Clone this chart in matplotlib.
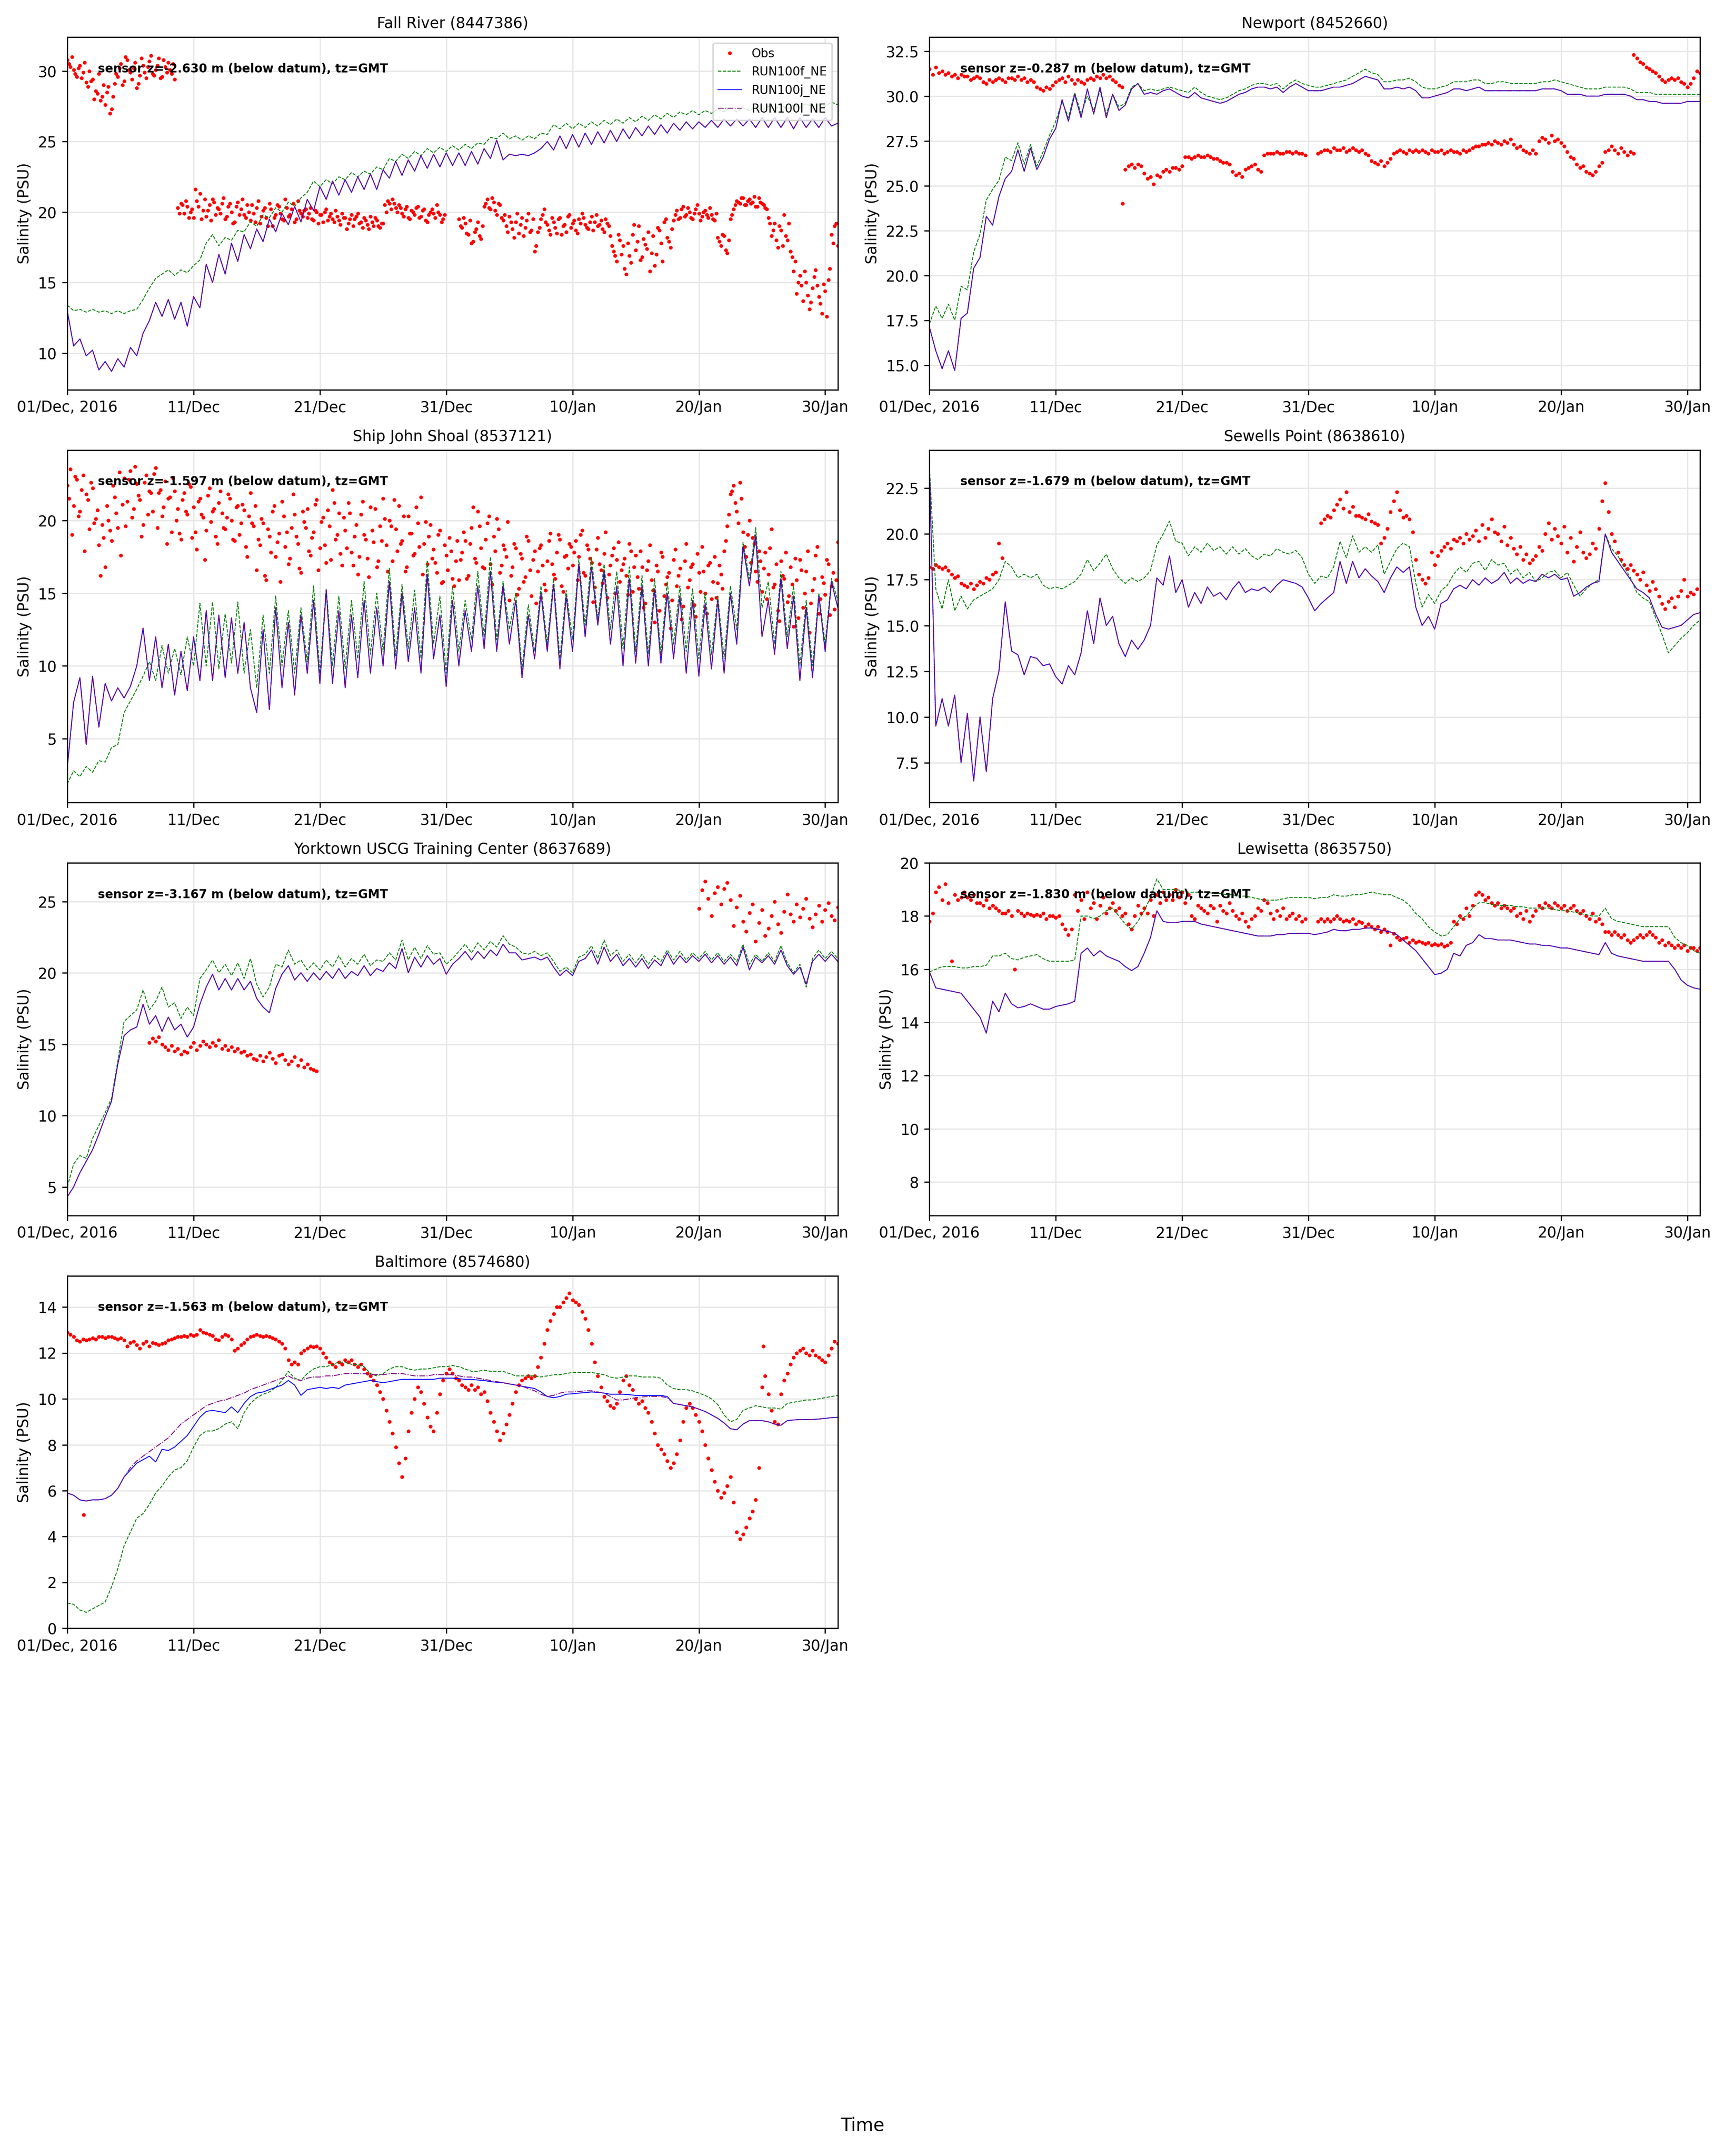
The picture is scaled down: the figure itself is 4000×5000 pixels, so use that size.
import numpy as np
import matplotlib
matplotlib.use("Agg")
import matplotlib.pyplot as plt
from datetime import datetime, timedelta

# Salinity at NOAA stations: observations vs three model runs, Dec 2016 - Jan 2017

T0 = datetime(2016, 12, 1)
MODEL_STEP = 0.5   # days between model samples
OBS_STEP = 0.25    # days between obs samples


def vals(s):
    return np.array(s.split(), dtype=float)


tick_days = [0, 10, 20, 30, 40, 50, 60]
tick_labels = ['01/Dec, 2016', '11/Dec', '21/Dec', '31/Dec', '10/Jan', '20/Jan', '30/Jan']

# ---------------- Fall River (8447386)
fr_f = vals("""
13.4 13.0 13.1 12.9 13.1 12.9 13.0 12.8 13.0 12.8 13.0 13.1
13.8 14.6 15.3 15.6 15.9 15.5 15.9 15.7 16.2 16.6 17.8 18.4
17.6 18.2 18.0 18.7 18.6 19.3 19.0 19.8 19.6 20.3 20.0 20.7
20.4 21.0 21.4 22.2 21.8 22.3 22.0 22.5 22.3 22.8 22.5 22.9
22.7 23.2 23.0 23.8 23.6 24.1 23.8 24.3 24.0 24.5 24.2 24.6
24.3 24.7 24.4 24.8 24.5 24.9 24.8 25.3 25.2 25.6 25.2 25.4
25.1 25.4 25.2 25.6 25.5 26.2 25.9 26.3 25.9 26.3 26.0 26.4
26.1 26.5 26.2 26.6 26.3 26.7 26.4 26.8 26.5 26.9 26.6 27.0
26.7 27.1 26.9 27.2 26.9 27.2 27.0 27.3 27.1 27.4 27.1 27.4
27.2 27.5 27.2 27.5 27.3 27.6 27.3 27.6 27.4 27.7 27.4 27.7
27.5 27.8 27.6""")
fr_j = vals("""
13.0 10.5 11.0 9.8 10.2 8.8 9.4 8.7 9.6 9.0 10.4 9.8
11.4 12.3 13.6 12.6 13.8 12.4 13.6 11.9 14.0 13.2 16.3 15.0
17.0 15.6 17.8 16.5 18.4 17.4 18.8 17.9 19.5 18.6 19.9 19.1
20.4 19.3 20.9 20.1 21.8 20.9 22.2 21.2 22.3 21.4 22.5 21.6
22.7 21.6 23.0 22.4 23.6 22.6 23.7 22.9 24.0 23.1 24.1 23.2
24.2 23.3 24.2 23.3 24.3 23.4 24.5 23.8 25.1 23.7 24.1 24.0
24.1 24.0 24.2 24.5 25.0 24.4 25.4 24.5 25.5 24.6 25.6 24.8
25.7 24.9 25.8 25.0 25.9 25.2 26.0 25.4 26.1 25.5 26.2 25.6
26.3 25.8 26.4 25.9 26.4 26.0 26.5 26.0 26.6 26.1 26.6 26.1
26.6 26.0 26.7 26.0 26.7 26.0 26.7 25.9 26.7 26.0 26.6 26.0
26.7 26.1 26.3""")
fr_l = fr_j
fr_obs = [
    (0.0, vals("""30.8 30.3 30.1 29.6 30.4 29.9 29.2 30.0 29.4 28.6 29.8 28.2 27.6 28.9 27.3
                  29.1 29.6 30.5 29.3 30.8 29.9 30.2 28.8 29.7 30.4 29.5 30.7 29.8 30.1 30.9
                  29.6 30.3 30.6 29.8 29.4""")),
    (0.125, vals("""30.5 31.0 29.8 30.2 29.5 30.6 28.9 29.3 28.0 28.4 27.9 29.0 28.5 27.0 28.2 29.8 30.2
                    29.0 31.0 30.1 29.4 30.6 29.1 30.9 29.9 30.3 31.1 29.7 30.4 29.5 30.8 29.9 30.1 30.5""")),
    (8.75, vals("""20.3 20.6 19.9 20.4 20.0 19.6 20.8 21.3 20.1 19.7 20.5 20.9 19.8 20.2 20.6
                   19.5 20.4 20.0 19.3 20.7 20.2 19.8 20.5 19.4 19.9 20.3 19.2 20.1 19.6 20.6
                   19.0 19.8 20.4 19.5 20.9 19.7 20.2 19.3 20.8 19.9 20.1
                   19.6 20.3 19.4 20.0 19.8 19.3 20.2 19.7 19.5 20.1 19.4 19.9 19.6 19.2 19.8
                   19.5 19.9 19.3 19.6 19.1 19.7 19.0 19.4 18.9
                   19.2 20.0 20.6 20.9 20.3 20.5 19.9 20.2 19.6 20.1 19.8 20.4 19.7 20.2 19.3
                   20.0 19.9 20.5 19.8 19.5""")),
    (8.875, vals("""19.9 20.5 20.8 19.6 20.2 21.6 20.4 19.5 20.9 20.1 19.4 20.7 20.3 19.9 21.0
                    19.7 20.6 19.2 20.4 19.8 20.9 19.6 20.0 20.5 19.3 20.8 19.7 20.3 19.0 20.2
                    19.6 20.5 19.9 19.4 20.3 19.8 20.6 19.5 20.1 19.7 20.2
                    19.9 19.5 20.1 19.2 19.8 20.0 19.4 19.9 19.3 19.7 19.1 19.6 18.8 19.5 19.0
                    19.7 19.2 18.9 19.4 18.8 19.3 19.6 19.0 19.2
                    20.5 20.8 20.2 20.6 20.0 20.3 19.7 20.4 19.5 20.0 20.3 19.6 20.1 19.4 19.8
                    20.2 19.6 20.0 19.3 19.8""")),
    (31.0, vals("""19.5 18.9 19.2 18.4 17.8 18.6 19.3 18.1
                   20.4 20.9 20.2 20.7 19.8 20.5
                   19.4 19.0 19.7 18.8 19.3 18.5 19.6 18.9 19.9 18.7 17.2 18.6 19.5 20.2 19.1 18.4
                   19.3 18.5 19.6 19.0 18.6 19.8 19.2 18.7 19.5 19.9 19.1 18.8 19.7 19.3 19.0 19.4 18.6 19.2
                   18.3 17.2 16.5 18.0 17.6 15.6 16.9 18.4 17.3 19.0 16.8 17.7 18.6 17.1 16.2 18.9 17.8 19.3 18.2 17.5
                   19.4 20.1 19.6 20.4 19.8 20.0 19.5 20.2 19.9 19.7 20.1 19.6 19.8 19.4
                   18.2 17.6 18.3 17.1 19.5 20.2
                   20.8 20.6 21.0 20.5 20.9 20.7 20.4 21.0 20.6 20.3
                   19.6 18.3 19.2 17.5 18.7 19.8 18.0 17.2
                   15.8 14.2 15.5 13.7 15.0 13.1 14.6 15.9 14.0 12.8 14.4 15.2
                   18.4 19.0 17.6""")),
    (31.125, vals("""19.0 19.6 18.5 19.4 17.9 18.8 18.3 19.0
                     20.6 20.3 21.0 20.1 20.6 19.6
                     19.8 18.6 19.3 18.2 19.9 19.1 18.3 19.4 18.6 19.5 17.6 18.9 19.8 19.3 18.7 19.6
                     18.9 19.5 18.4 19.1 19.7 18.9 19.4 18.5 19.2 19.6 18.9 19.3 18.7 19.8 19.1 18.8 19.5 19.0
                     17.6 16.9 18.4 17.0 16.0 17.8 16.4 19.1 17.9 16.6 18.1 17.4 15.8 18.3 17.0 18.7 16.5 19.5 17.9 18.8
                     19.8 19.5 20.2 19.7 20.3 19.6 19.9 20.5 19.4 20.0 19.8 20.3 19.5 19.9
                     17.9 18.4 17.3 18.0 19.8 20.5
                     20.7 21.0 20.5 20.8 20.6 21.1 20.4 20.7 20.5 20.2
                     19.2 18.7 18.0 19.0 17.6 18.3 19.2 16.8
                     16.5 15.0 14.8 15.8 14.1 13.6 15.4 14.8 13.5 14.9 12.6 16.0
                     17.8 19.2""")),
]

# ---------------- Newport (8452660)
np_f = vals("""
17.3 18.3 17.6 18.4 17.5 19.4 19.2 21.3 22.3 24.2 24.8 25.3
26.6 26.4 27.4 26.2 27.3 26.1 26.9 27.8 28.6 29.7 28.8 30.2
29.0 30.0 29.2 30.3 29.0 30.1 29.4 29.6 30.5 30.7 30.3 30.4
30.3 30.4 30.5 30.4 30.3 30.2 30.5 30.2 30.0 29.9 29.8 29.9
30.1 30.3 30.4 30.6 30.7 30.7 30.6 30.7 30.4 30.7 30.9 30.7
30.6 30.5 30.5 30.6 30.7 30.8 30.9 31.1 31.3 31.5 31.3 31.2
30.8 30.8 30.9 30.9 31.0 30.8 30.5 30.4 30.4 30.5 30.6 30.8
30.8 30.8 30.9 30.9 30.7 30.7 30.8 30.8 30.7 30.7 30.7 30.7
30.7 30.8 30.8 30.9 30.8 30.7 30.6 30.5 30.4 30.4 30.4 30.5
30.5 30.5 30.5 30.4 30.2 30.2 30.2 30.1 30.1 30.1 30.1 30.1
30.1 30.1 30.1""")
np_j = vals("""
17.1 15.8 14.8 15.8 14.7 17.6 17.9 20.4 21.0 23.3 22.8 24.4
25.4 25.8 27.0 25.8 27.1 25.9 26.6 27.6 28.2 29.8 28.6 30.1
28.8 30.4 29.0 30.5 28.8 30.1 29.2 29.5 30.4 30.7 30.1 30.2
30.1 30.3 30.4 30.2 30.0 29.9 30.2 29.9 29.8 29.7 29.6 29.7
29.9 30.1 30.2 30.4 30.5 30.5 30.4 30.5 30.2 30.5 30.7 30.5
30.3 30.3 30.3 30.4 30.5 30.5 30.6 30.7 30.9 31.1 31.0 30.9
30.4 30.4 30.5 30.4 30.5 30.3 29.9 29.9 30.0 30.1 30.2 30.4
30.4 30.3 30.4 30.5 30.3 30.3 30.3 30.3 30.3 30.3 30.3 30.3
30.3 30.4 30.4 30.4 30.3 30.1 30.1 30.1 30.0 30.0 30.0 30.1
30.1 30.1 30.1 30.0 29.8 29.8 29.7 29.7 29.6 29.6 29.6 29.6
29.7 29.7 29.7""")
np_l = np_j
np_obs = [
    (0.0, vals("""31.5 31.2 31.6 31.3 31.4 31.2 31.3 31.1
                  31.2 31.0 31.2 31.1 31.1 30.9 31.0 31.1
                  31.0 30.8 30.7 30.9 30.8 30.9 31.0 30.9
                  30.8 31.0 31.0 30.9 31.1 30.9 31.0 30.8
                  30.9 30.8 30.5 30.4 30.3 30.5 30.4 30.6
                  30.8 30.9 31.0 30.8 31.1 30.9 30.7 30.9
                  30.8 30.7 30.9 31.0 30.9 31.1 31.0 31.2
                  31.0 31.1 30.9 30.8 30.6 30.5""")),
    (15.3, vals("24.0")),
    (15.5, vals("""25.9 26.1 26.2 26.0 26.2 26.1 25.7 25.4 25.5 25.1 25.6 25.5
                   25.8 25.9 25.8 26.0 26.0 25.9 26.1
                   26.6 26.6 26.5 26.6 26.7 26.6 26.6 26.7 26.6 26.5
                   26.5 26.4 26.3 26.3 26.2 25.8 25.6 25.7 25.5 25.9
                   26.0 26.1 26.2 25.9 25.8
                   26.7 26.8 26.8 26.8 26.9 26.8 26.8 26.9 26.9 26.8 26.9 26.8 26.8 26.7""")),
    (30.75, vals("""26.8 26.9 27.0 27.0 26.9 27.1 27.0 27.0 27.1 26.9 27.0 27.1 27.0 26.9
                    27.0 26.8 26.7
                    26.4 26.3 26.2 26.4 26.1 26.3 26.5
                    26.8 26.9 27.0 26.9 26.8 27.0 26.9 27.0
                    26.9 27.0 26.9 26.8 27.0 26.9 26.9 27.0 26.8 26.9 27.0 26.9
                    26.9 26.8 27.0 26.9 27.0 27.1 27.2
                    27.2 27.3 27.3 27.4 27.3 27.5 27.4 27.3 27.5 27.4 27.6 27.3
                    27.1 27.2 27.0 26.9 26.8 27.0 26.8
                    27.5 27.7 27.6 27.4 27.8 27.5 27.6 27.4 27.2
                    26.9 26.6 26.5 26.2 26.0 26.1
                    25.8 25.7 25.6 25.8 26.1 26.3
                    26.9 27.0 27.2 27.0 26.8 27.1 26.9 26.7 26.9 26.8""")),
    (55.75, vals("""32.3 32.1 31.9 31.8 31.6 31.5 31.4 31.3 31.1 30.9 30.8 30.9
                    31.0 30.9 31.0 30.8 30.7 30.5 30.7 31.0 31.4 31.3""")),
]

# ---------------- Ship John Shoal (8537121)
sj_f = vals("""
1.9 2.8 2.4 3.1 2.7 3.5 3.4 4.4 4.6 6.8 7.6 8.4
9.3 10.3 9.0 11.4 9.5 11.2 9.4 12.0 10.0 14.3 10.0 14.4
9.8 13.6 10.2 14.4 9.5 12.5 8.5 13.5 9.5 14.8 10.0 13.8
9.5 14.0 10.3 15.5 9.5 15.3 10.0 14.8 9.8 14.5 10.5 15.8
10.8 15.0 11.0 16.7 10.7 15.6 11.2 15.2 10.5 17.2 11.5 14.8
9.5 15.5 11.0 14.5 11.8 16.5 12.0 17.5 11.8 15.8 12.5 15.0
9.8 14.2 11.0 15.5 11.5 16.0 10.5 15.2 11.8 17.3 12.8 17.5
13.2 17.0 12.5 16.5 11.2 16.8 11.0 16.2 10.8 16.0 10.8 15.8
11.5 15.5 11.0 15.3 10.5 15.0 10.8 14.8 10.5 15.5 12.5 18.5
16.0 19.5 14.0 15.8 11.5 16.5 12.0 15.5 10.0 14.5 10.0 15.0
11.5 16.0 14.5""")
sj_j = vals("""
3.0 7.5 9.2 4.6 9.3 5.8 8.8 7.6 8.5 7.8 8.6 10.0
12.6 9.0 12.0 8.5 11.5 8.0 11.0 8.3 12.0 9.0 13.8 9.0
13.5 9.2 13.3 9.5 13.0 8.5 6.8 12.5 7.0 14.0 8.5 13.0
8.0 13.5 9.5 14.5 8.8 15.2 8.8 13.8 8.5 13.5 9.2 14.5
9.5 14.0 10.0 15.8 9.8 15.0 10.3 14.0 9.5 16.3 10.5 13.5
8.6 14.5 10.0 13.8 11.0 15.5 11.2 16.5 11.0 15.5 11.5 14.5
9.2 13.5 10.5 15.0 11.0 15.6 9.8 14.8 11.0 17.0 12.0 16.8
12.8 16.5 11.5 15.5 10.0 16.0 10.2 15.5 10.0 15.3 10.2 15.0
10.5 14.8 9.5 14.5 9.3 14.3 9.8 14.5 9.5 15.0 11.5 18.2
15.5 19.0 12.0 14.5 10.8 16.0 11.2 14.8 9.0 14.0 9.2 14.8
11.0 15.8 14.0""")
sj_l = sj_j
sj_obs = [
    (0.0, vals("""22.4 23.5 21.0 22.8 20.6 23.1 21.8 19.4 22.2 20.1 18.3 19.7 16.8 20.0 18.6 21.6 19.5 17.6 22.9 21.3
                  23.4 20.8 22.5 21.4 19.7 23.1 22.0 20.6 23.6 21.9 20.3 22.7 21.5 19.2 22.0 20.8 18.7 21.9 20.4 22.3
                  20.9 18.0 21.5 20.2 19.3 22.2 20.6 18.9 21.2 20.5 19.4 21.8 20.0 18.6 21.0 19.8 20.7 17.5 21.9 19.6
                  16.6 18.3 19.8 15.9 18.9 20.6 17.5 19.1 21.3 18.2 17.0 19.5 20.4 18.4 16.4 19.9 20.8 17.6 19.2 21.4
                  18.1 20.2 17.1 19.6 22.1 18.7 20.5 16.9
                  19.3 21.2 17.8 18.9 16.3 20.4 19.0 17.4 20.9 18.5 16.8 19.6 21.5 18.3 20.0 17.2 19.4 21.0 18.6 16.5
                  20.3 19.1 17.7 19.8 21.6 18.4 17.0 19.7
                  18.0 16.4 19.3 15.8 17.6 18.8 16.0 17.2
                  15.9 17.8 18.6 16.2 19.5 17.4 20.6 18.1 16.7 19.8 17.0 18.9 20.1 16.4 18.3 17.5
                  14.5 16.8 18.1 15.3 17.4 16.1 18.6 14.8 17.9 16.5 18.3 15.6 17.2 19.1 16.3 17.8 18.7 15.1 17.6 18.4
                  16.9 18.6 17.5 19.3 16.2 18.0 17.1 15.4 18.8 16.6 17.7 14.7 16.9 18.1 17.3 15.8 17.0 16.2 18.4 15.1
                  17.6 15.3 16.8 14.3 17.2 15.9 13.0 16.5 17.8 14.8 16.1 12.6 17.3 15.5 16.7 14.1 18.4 15.9 17.0 13.4
                  16.4 18.2 15.0 16.9 14.6 17.5 15.7 16.3
                  17.9 19.6 21.8 22.4 20.6 22.6 19.2 17.5 20.0 18.8 16.5 17.9
                  15.1 17.8 16.3 19.4 15.6 13.8 17.2 16.0 14.4 16.8 12.7 15.9 17.3 14.0 16.5 12.3 15.2 17.6 13.6 16.1
                  14.9 17.0 15.5 13.9 18.5""")),
    (0.125, vals("""21.5 19.0 23.0 20.3 22.1 17.9 21.4 22.6 19.8 20.7 16.2 18.8 21.0 19.3 22.4 20.5 23.3 21.1 19.6 22.8
                    20.2 23.7 21.7 18.9 22.6 20.4 21.9 23.2 19.5 22.1 20.9 18.4 21.6 22.9 20.0 19.1 21.4 20.6 22.5 18.8
                    19.2 21.3 20.4 17.3 21.7 19.9 20.8 18.4 22.0 19.5 20.2 21.5 18.7 20.9 19.0 21.1 18.2 20.3 19.8 21.0
                    18.7 20.1 16.2 19.4 17.8 21.0 18.5 15.8 20.3 19.2 17.4 21.8 18.9 16.7 20.6 19.5 17.9 18.8 21.1 16.6
                    19.9 18.3 20.7 17.3 21.2 19.0 17.7 20.2
                    18.1 20.5 16.9 19.7 17.5 21.3 18.7 16.1 19.3 20.8 17.2 18.6 20.1 16.5 19.6 21.4 17.9 18.4 20.3 16.8
                    19.1 17.6 20.9 18.2 16.3 19.9 18.9 17.4
                    17.1 19.0 15.7 18.3 16.6 17.9 15.5 18.6
                    17.3 19.2 16.0 18.4 20.9 17.1 19.6 16.8 18.7 20.3 15.6 17.9 19.4 16.9 18.0 19.9
                    16.2 18.4 14.9 17.7 15.8 18.9 16.6 17.3 14.3 18.1 16.9 15.2 18.6 17.0 16.0 19.0 15.5 17.5 16.7 18.2
                    17.8 15.9 19.0 16.4 18.3 17.4 14.4 18.0 17.0 15.7 19.2 16.3 17.6 15.0 18.5 16.6 17.4 14.9 17.9 16.8
                    16.1 17.9 14.0 16.6 18.3 15.2 16.9 13.8 17.5 15.6 16.4 14.5 18.0 16.2 13.2 17.2 15.4 16.8 14.2 17.7
                    15.1 16.5 13.6 17.1 15.8 14.7 16.9 15.3
                    18.6 20.4 22.0 21.2 19.8 21.5 18.2 19.0 17.1 18.4 15.8 17.2
                    16.7 14.6 18.1 15.4 17.0 13.1 16.2 17.8 14.8 15.6 17.4 13.3 16.6 15.0 17.9 14.3 16.0 18.2 14.6 15.7
                    17.3 13.5 16.4 15.9""")),
]

# ---------------- Sewells Point (8638610)
sp_f = vals("""
23.6 17.0 15.9 17.5 15.8 16.6 15.9 16.4 16.6 16.8 17.0 17.5
18.5 18.2 17.6 17.8 17.6 17.8 17.2 17.0 17.1 17.0 17.2 17.4
17.8 18.6 18.0 18.4 18.9 18.1 17.6 17.3 17.6 17.4 17.6 18.0
19.4 20.0 20.7 19.6 19.5 18.8 19.3 19.0 19.5 19.1 19.3 18.9
19.3 18.9 19.2 18.8 18.6 18.9 18.8 19.2 19.0 18.9 19.1 18.7
17.8 17.3 17.7 17.6 18.2 19.6 18.7 19.9 19.0 19.3 19.0 19.4
17.8 18.5 19.2 19.5 19.3 17.3 16.0 16.7 16.2 16.9 17.2 17.8
18.2 17.9 18.4 18.5 18.0 18.6 18.3 18.4 17.8 18.1 17.6 17.9
17.4 17.6 17.9 18.0 17.6 17.9 17.2 16.6 17.0 17.3 17.5 20.0
19.2 18.8 18.2 17.6 16.8 16.5 16.3 15.4 14.5 13.5 13.9 14.3
14.6 15.0 15.3""")
sp_j = vals("""
23.7 9.5 11.0 9.5 11.2 7.5 10.2 6.5 10.0 7.0 11.0 12.5
16.3 13.6 13.4 12.3 13.3 13.2 12.8 12.9 12.2 11.8 12.8 12.3
13.5 15.8 14.0 16.5 15.0 15.5 14.0 13.3 14.2 13.7 14.2 15.0
17.6 17.2 18.8 16.8 17.5 16.0 16.8 16.2 17.1 16.6 16.8 16.4
17.0 17.4 16.8 17.0 16.9 17.1 16.8 17.2 17.5 17.4 17.3 17.1
16.5 15.8 16.2 16.5 16.8 18.5 17.3 18.5 17.6 18.1 17.7 17.4
16.8 17.6 18.2 17.9 18.2 16.0 15.0 15.5 14.8 16.2 16.4 17.0
17.2 17.0 17.5 17.2 17.6 17.3 17.5 17.9 17.3 17.6 17.3 17.5
17.4 17.8 17.6 17.8 17.5 17.6 16.6 16.8 17.1 17.3 17.4 20.0
19.0 18.5 18.0 17.5 17.0 16.8 16.5 15.6 14.9 14.8 14.9 15.0
15.3 15.6 15.7""")
sp_l = sp_j
sp_obs = [
    (0.0, vals("""18.2 18.1 18.3 18.2 18.1 18.2 18.0 17.8 17.6 17.7 17.3 17.2
                  17.1 17.3 17.0 17.2 17.4 17.3 17.6 17.5 17.8 17.9 19.5 18.7""")),
    (31.0, vals("""20.6 20.8 21.0 20.9 21.3 21.6 21.9 21.4 22.3 21.2 21.5 21.0
                   21.0 20.9 20.8 21.1 20.7 20.6 20.5 19.5 19.8 20.3
                   21.2 21.8 22.3 21.3 20.9 21.0 20.8 20.1
                   18.6 17.8 17.5 17.3 17.6 19.0
                   18.3 18.8 19.1 19.3 19.5 19.2 19.7 19.6
                   19.8 19.5 20.0 19.7 19.9 20.2 19.6 20.5 19.8 20.3 20.8 20.1
                   20.0 19.6 20.4 19.4 19.8 19.2 18.9 19.3 18.6 18.9 18.4 18.6
                   18.8 19.3 19.1 20.0 20.6 19.7 20.3 19.9
                   19.5 20.4 19.0 19.8 18.5 19.3 20.1 19.0 18.7 18.9 19.5 19.2 20.3
                   21.8 22.8 21.2 20.0
                   19.6 19.0 18.6 18.3 18.1 18.3 18.0
                   17.8 17.5 17.9 17.2 16.9 17.4 17.0 16.6
                   16.2 15.9 16.3 16.5 16.0 16.6 16.9 17.5 16.6 16.8 16.7 17.0""")),
]

# ---------------- Yorktown USCG Training Center (8637689)
yt_f = vals("""
5.0 6.6 7.2 7.0 8.4 9.3 10.2 11.2 13.8 16.6 17.0 17.4
18.8 17.4 18.0 19.0 17.6 17.9 16.8 17.6 17.0 19.6 20.2 20.9
20.0 20.6 19.8 20.7 19.6 21.0 19.2 18.3 19.0 20.6 20.4 21.6
20.6 20.9 20.2 20.7 20.2 20.9 20.4 21.2 20.4 21.0 20.6 21.3
20.5 20.9 20.8 21.4 20.9 22.3 20.9 21.8 21.0 21.9 21.3 21.4
20.6 21.0 21.5 22.0 21.4 22.1 21.6 22.2 21.8 22.6 22.0 21.8
21.4 21.3 21.5 21.2 21.4 20.8 20.1 20.4 20.0 21.1 21.3 21.9
21.0 22.3 21.2 21.6 20.8 21.3 20.7 21.3 20.6 21.2 20.8 21.6
20.9 21.5 20.9 21.4 21.0 21.5 20.9 21.4 20.8 21.3 20.8 22.0
20.6 21.3 20.8 21.4 20.8 21.9 20.7 20.0 20.6 19.0 21.0 21.6
21.0 21.5 21.0""")
yt_j = vals("""
4.3 5.0 6.0 6.8 7.6 8.7 9.9 11.0 13.6 15.6 16.0 16.2
17.8 16.4 17.0 15.9 16.9 16.0 16.4 15.5 16.2 17.8 19.0 19.9
18.8 19.6 18.8 19.6 18.8 19.4 18.2 17.6 17.2 18.9 19.9 20.5
19.5 20.0 19.4 20.0 19.5 20.1 19.6 20.3 19.6 20.1 19.8 20.5
19.8 20.3 20.1 20.7 20.3 21.7 20.0 21.1 20.4 21.2 20.6 21.0
19.9 20.6 21.0 21.5 20.9 21.5 21.0 21.6 21.2 22.0 21.4 21.4
20.9 21.0 21.1 20.9 21.1 20.4 19.8 20.2 19.8 20.8 21.0 21.6
20.6 21.8 20.8 21.3 20.5 21.0 20.4 21.0 20.3 20.9 20.5 21.4
20.6 21.2 20.7 21.2 20.8 21.3 20.7 21.2 20.6 21.1 20.5 21.8
20.2 21.1 20.7 21.2 20.6 21.6 20.5 19.9 20.4 19.2 20.8 21.3
20.8 21.3 20.8""")
yt_l = yt_j
yt_obs = [
    (6.5, vals("""15.1 15.4 15.2 15.5 15.0 14.8 14.6 14.9 14.5 14.7 14.3 14.5 14.4 14.8 15.1 14.6 14.9 15.2
                  15.0 14.8 15.1 14.9 15.3 14.7 14.9 14.6 14.8 14.5 14.7 14.4 14.5 14.2 14.3 14.0 13.9 14.2
                  13.8 14.1 14.4 14.0 13.7 14.2 14.3 13.9 13.6 13.8 14.1 13.5 13.9 13.4 13.6 13.3 13.2 13.1""")),
    (50.0, vals("""24.5 25.8 26.4 25.2 24.0 25.6 26.0 24.8 25.9 26.3 25.1 23.3 24.6 25.4 23.6
                   22.9 24.2 24.8 22.2 23.5 24.4 22.6 23.1 24.0 25.0 23.4 22.8 24.3 25.5 24.1
                   23.6 24.8 23.9 24.5 25.2 23.8 23.2 24.1 24.7 23.6 24.4 24.9 24.0 23.7 24.6""")),
]

# ---------------- Lewisetta (8635750)
lw_f = vals("""
15.9 16.0 16.1 16.1 16.1 16.05 16.05 16.1 16.1 16.15 16.5 16.5
16.6 16.4 16.35 16.45 16.5 16.55 16.4 16.3 16.3 16.3 16.3 16.35
18.0 18.0 17.9 18.0 18.2 18.3 18.0 17.7 17.5 17.8 18.2 18.7
19.4 19.0 19.0 19.0 18.95 18.9 18.9 18.9 18.9 18.85 18.85 18.8
18.8 18.75 18.75 18.7 18.65 18.6 18.6 18.6 18.65 18.7 18.7 18.7
18.7 18.65 18.7 18.7 18.8 18.75 18.75 18.8 18.8 18.85 18.9 18.85
18.8 18.8 18.7 18.6 18.4 18.1 17.9 17.6 17.4 17.25 17.3 17.6
17.9 18.0 18.3 18.5 18.5 18.45 18.4 18.4 18.4 18.35 18.35 18.3
18.3 18.3 18.3 18.25 18.2 18.2 18.15 18.1 18.05 18.0 18.0 18.3
17.9 17.8 17.75 17.7 17.65 17.6 17.6 17.6 17.6 17.6 17.2 17.0
16.9 16.7 16.6""")
lw_j = vals("""
15.9 15.3 15.25 15.2 15.15 15.1 14.8 14.5 14.2 13.6 14.8 14.4
15.1 14.7 14.55 14.6 14.7 14.6 14.5 14.5 14.6 14.65 14.7 14.8
16.6 16.8 16.5 16.7 16.5 16.4 16.3 16.1 15.95 16.1 16.6 17.2
18.2 17.8 17.75 17.75 17.8 17.8 17.8 17.7 17.65 17.6 17.55 17.5
17.45 17.4 17.35 17.3 17.25 17.25 17.25 17.3 17.3 17.35 17.35 17.35
17.35 17.3 17.35 17.4 17.5 17.45 17.45 17.5 17.5 17.55 17.55 17.5
17.45 17.4 17.3 17.1 16.9 16.7 16.4 16.1 15.8 15.85 16.0 16.6
16.5 16.9 17.0 17.3 17.15 17.15 17.1 17.1 17.1 17.05 17.0 16.95
16.95 16.9 16.9 16.85 16.8 16.8 16.75 16.7 16.65 16.6 16.55 17.0
16.6 16.5 16.45 16.4 16.35 16.3 16.3 16.3 16.3 16.3 16.0 15.6
15.4 15.3 15.25""")
lw_l = lw_j
lw_obs = [
    (0.0, vals("""17.8 18.1 18.9 19.1 18.6 19.2 18.5 16.3
                  18.8 18.6 18.7 18.9 18.7 18.6 18.8 18.5
                  18.5 18.4 18.6 18.3 18.4 18.3 18.2 18.1
                  18.1 18.2 18.0 16.0 18.2 18.1 18.0 18.1 18.05 18.0
                  18.05 18.0 18.1 17.9 18.0 18.0 17.95 18.0 17.7 17.5
                  17.3 17.5 18.8 18.2 18.6 17.9 18.9 18.3
                  18.5 17.9 18.4 18.7 18.1 18.3 18.5 18.2
                  18.3 18.0 18.1 17.7 17.5 18.0 18.4 18.1
                  18.3 18.1 18.6 18.0 18.8 18.5 18.9 18.6
                  18.8 18.6 19.0 18.7 18.9 18.5 18.8 18.0
                  17.9 18.4 18.3 18.2 18.1 18.4 18.3 17.8
                  18.4 18.2 18.1 18.5 18.2 18.0 17.9 18.1
                  17.8 17.6 17.9 18.0 18.3 18.2 18.6 18.5
                  18.1 17.9 18.2 18.0 18.3 17.9 18.0 18.1
                  17.9 18.0 17.8 17.9 nan nan nan
                  17.8 17.9 17.8 17.9 17.8 17.9 18.0 17.9 17.8
                  17.85 17.8 17.9 17.7 17.8 17.75 17.6 17.7
                  17.6 17.5 17.6 17.4 17.5 17.4 16.9 17.35
                  17.2 17.1 17.15 17.2 17.0 17.1 17.0 17.05
                  17.0 16.95 17.0 16.9 16.95 16.9 16.95 16.85 16.9 17.0
                  17.8 17.7 18.0 17.9 18.3 18.0 18.4 18.8
                  18.9 18.8 18.6 18.7 18.5 18.4 18.5 18.3
                  18.4 18.3 18.2 18.3 18.0 18.1 17.9 18.2
                  17.8 18.0 18.2 18.4 18.3 18.5 18.4 18.3
                  18.5 18.4 18.3 18.4 18.2 18.3 18.4 18.2
                  18.1 18.2 18.0 17.9 18.1 17.8 17.9 17.7
                  17.4 17.4 17.3 17.4 17.3 17.2 17.3 17.1
                  17.0 17.1 17.2 17.3 17.2 17.3 17.4 17.3
                  17.2 17.0 17.1 16.9 17.0 16.9 16.8 16.9
                  16.8 16.9 16.7 16.8 16.8 16.7 16.8""")),
]

# ---------------- Baltimore (8574680)
ba_f = vals("""
1.1 1.05 0.8 0.7 0.85 1.0 1.15 1.8 2.6 3.6 4.2 4.8
5.0 5.4 5.9 6.2 6.6 6.9 7.0 7.3 7.9 8.4 8.6 8.6
8.7 8.9 9.0 8.7 9.4 9.8 10.05 10.2 10.3 10.5 10.8 11.2
10.9 10.8 11.1 11.3 11.4 11.4 11.5 11.6 11.6 11.5 11.5 11.4
11.1 11.0 11.1 11.3 11.4 11.4 11.3 11.25 11.3 11.3 11.35 11.4
11.4 11.45 11.4 11.3 11.2 11.2 11.25 11.2 11.2 11.2 11.1 11.0
11.0 11.0 11.0 10.95 11.0 11.05 11.05 11.1 11.15 11.15 11.15 11.15
11.1 11.05 10.95 10.9 10.95 11.0 11.0 10.95 10.95 10.95 10.9 10.6
10.45 10.4 10.4 10.35 10.25 10.15 10.0 9.75 9.3 9.0 9.1 9.5
9.6 9.7 9.65 9.6 9.6 9.55 9.8 9.85 9.9 9.95 9.95 10.0
10.05 10.1 10.15""")
ba_j = vals("""
5.9 5.8 5.6 5.55 5.6 5.6 5.65 5.8 6.1 6.6 6.9 7.2
7.35 7.5 7.25 7.8 7.75 7.9 8.15 8.4 8.8 9.2 9.45 9.5
9.45 9.4 9.65 9.4 9.8 10.1 10.25 10.3 10.4 10.5 10.6 10.8
10.6 10.15 10.4 10.45 10.5 10.45 10.5 10.45 10.6 10.65 10.7 10.75
10.8 10.75 10.7 10.75 10.8 10.85 10.85 10.85 10.85 10.85 10.85 10.9
10.9 10.9 10.88 10.85 10.85 10.82 10.8 10.75 10.72 10.7 10.65 10.6
10.55 10.5 10.45 10.3 10.1 10.05 10.1 10.2 10.22 10.25 10.27 10.3
10.28 10.25 10.2 10.2 10.2 10.18 10.15 10.15 10.15 10.15 10.15 10.1
9.8 9.75 9.7 9.65 9.55 9.45 9.3 9.15 8.95 8.7 8.65 8.9
9.05 9.05 9.05 9.0 8.9 8.85 9.05 9.08 9.1 9.1 9.1 9.12
9.15 9.18 9.2""")
ba_l = vals("""
5.9 5.8 5.6 5.55 5.6 5.6 5.65 5.8 6.1 6.6 7.0 7.3
7.5 7.7 7.9 8.1 8.3 8.6 8.9 9.1 9.3 9.5 9.7 9.8
9.9 9.95 10.05 10.15 10.25 10.4 10.5 10.6 10.7 10.8 10.9 11.0
10.85 10.8 10.9 10.95 10.95 11.0 11.0 11.05 11.1 11.1 11.1 11.1
11.05 11.05 11.05 11.1 11.1 11.1 11.05 11.0 11.0 11.0 11.05 11.05
11.05 11.05 11.0 10.95 10.95 10.9 10.85 10.8 10.75 10.7 10.65 10.6
10.55 10.45 10.35 10.2 10.1 10.15 10.25 10.3 10.3 10.32 10.35 10.35
10.3 10.25 10.1 9.95 9.95 10.0 10.05 10.08 10.1 10.1 10.1 10.05
9.8 9.75 9.7 9.65 9.55 9.45 9.3 9.15 8.95 8.7 8.65 8.9
9.05 9.05 9.05 9.0 8.9 8.85 9.05 9.08 9.1 9.1 9.1 9.12
9.15 9.18 9.2""")
ba_obs = [
    (0.0, vals("""12.9 12.8 12.7 12.55 12.5 12.6 12.55 12.6
                  12.65 12.6 12.7 12.7 12.65 12.7 12.7 12.65
                  12.6 12.65 12.55 12.3 12.45 12.5 12.35 12.2
                  12.4 12.5 12.3 12.45 12.4 12.35 12.4 12.45
                  12.55 12.6 12.65 12.7 12.7 12.75 12.7 12.8
                  12.75 12.8 13.0 12.9 12.85 12.8 12.75 12.6
                  12.55 12.7 12.8 12.75 12.6 12.1 12.2 12.35
                  12.45 12.6 12.7 12.75 12.8 12.75 12.7 12.75
                  12.7 12.65 12.6 12.5 12.4 12.2 11.7 11.5
                  11.6 11.5 12.0 12.1 12.2 12.3 12.25 12.3
                  12.2 12.0 11.8 11.6 11.5 11.4 11.6 11.5
                  11.7 11.6 11.7 11.5 11.4 11.5 11.3 11.1
                  11.0 10.8 10.6 10.3 10.0 9.5 9.0 8.5
                  7.9 7.2 6.6 7.4 8.6 9.4 10.0 10.5
                  10.3 9.8 9.2 8.8 8.6 9.4 10.2 10.8
                  11.1 11.3 11.1 10.9 10.8 10.6 10.5 10.4
                  10.6 10.4 10.5 10.2 10.3 9.9 9.4 9.0
                  8.6 8.2 8.5 8.9 9.3 9.8 10.3 10.6
                  10.8 10.9 11.0 10.9 11.0 11.4 11.8 12.4
                  13.0 13.4 13.7 14.0 14.0 14.2 14.4 14.6
                  14.3 14.2 14.1 13.8 13.5 13.0 12.4 11.6
                  11.0 10.5 10.1 9.9 9.7 9.6 9.8 10.3
                  10.8 11.0 10.6 10.4 10.0 9.8 9.9 9.6
                  9.4 9.0 8.5 8.0 7.8 7.6 7.3 7.0
                  7.2 7.6 8.2 9.0 9.6 9.8 9.6 9.3
                  9.0 8.6 8.0 7.4 6.9 6.4 6.0 5.7
                  5.9 6.2 6.6 5.5 4.2 3.9 4.1 4.4
                  4.8 5.1 5.6 7.0 10.5 11.0 10.2 9.5
                  9.0 8.9 10.2 10.8 11.1 11.5 11.8 12.0
                  12.1 12.2 12.0 11.9 12.1 11.9 11.8 11.7
                  11.6 11.9 12.2 12.5 12.4""")),
    (1.3, vals("4.95")),
    (55.1, vals("12.3")),
]

stations = [
    ('Fall River (8447386)', '-2.630', (7.40, 32.41), fr_obs, fr_f, fr_j, fr_l),
    ('Newport (8452660)', '-0.287', (13.63, 33.29), np_obs, np_f, np_j, np_l),
    ('Ship John Shoal (8537121)', '-1.597', (0.62, 24.83), sj_obs, sj_f, sj_j, sj_l),
    ('Sewells Point (8638610)', '-1.679', (5.32, 24.59), sp_obs, sp_f, sp_j, sp_l),
    ('Yorktown USCG Training Center (8637689)', '-3.167', (3.0, 27.7), yt_obs, yt_f, yt_j, yt_l),
    ('Lewisetta (8635750)', '-1.830', (6.74, 20.0), lw_obs, lw_f, lw_j, lw_l),
    ('Baltimore (8574680)', '-1.563', (0.0, 15.36), ba_obs, ba_f, ba_j, ba_l),
]


def to_dates(start, step, n):
    return [T0 + timedelta(days=start + step * i) for i in range(n)]


fig, axes = plt.subplots(5, 2, figsize=(16, 20), dpi=250)
fig.subplots_adjust(left=0.039, right=0.9855, top=0.9828, bottom=0.0532,
                    wspace=0.119, hspace=0.171)
axes = axes.ravel()
for ax in axes[7:]:
    ax.remove()

for k, (name, z, ylim, obs, f, j, l) in enumerate(stations):
    ax = axes[k]
    ot, ov = [], []
    for start, v in obs:
        ot += to_dates(start, OBS_STEP, len(v))
        ov += list(v)
    ax.plot(ot, ov, 'r.', ms=3.0, label='Obs')
    ax.plot(to_dates(0, MODEL_STEP, len(f)), f, color='g', ls='--', lw=0.6, label='RUN100f_NE')
    ax.plot(to_dates(0, MODEL_STEP, len(j)), j, color='b', ls='-', lw=0.6, label='RUN100j_NE')
    ax.plot(to_dates(0, MODEL_STEP, len(l)), l, color='purple', ls='-.', lw=0.6, label='RUN100l_NE')

    ax.set_xlim(T0, T0 + timedelta(days=61))
    ax.set_ylim(*ylim)
    ax.set_xticks([T0 + timedelta(days=d) for d in tick_days])
    ax.set_xticklabels(tick_labels)
    ax.grid(True, color='#e6e6e6', lw=0.8)
    ax.set_title(name, fontsize=10)
    ax.set_ylabel('Salinity (PSU)')
    ax.text(0.04, 0.91, f'sensor z={z} m (below datum), tz=GMT', transform=ax.transAxes,
            fontsize=8, fontweight='bold', va='center', ha='left')
    if k == 0:
        ax.legend(loc='upper right', fontsize=8)

fig.supxlabel('Time')
fig.savefig('out.png', dpi=250)
